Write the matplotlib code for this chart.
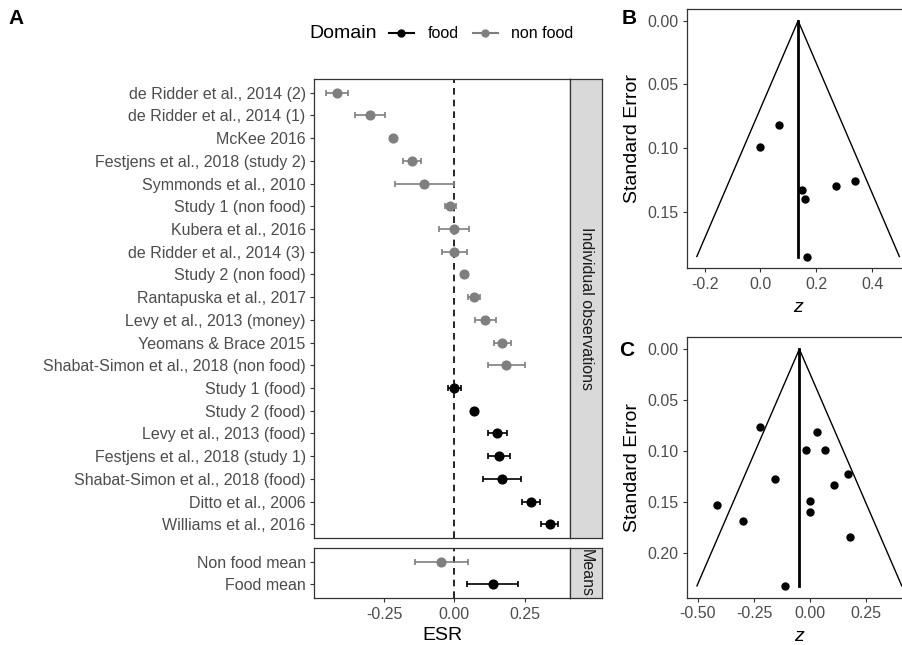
import matplotlib
matplotlib.use("Agg")
import matplotlib.pyplot as plt
from matplotlib.lines import Line2D
from matplotlib import ticker

plt.rcParams['font.family'] = ['Liberation Sans', 'DejaVu Sans']
plt.rcParams['axes.unicode_minus'] = False

W, H = 903, 645
GREY = '#7f7f7f'
TXT = '#4d4d4d'
EDGE = '#333333'

# panel A: individual observations, top to bottom
studies = ["de Ridder et al., 2014 (2)", "de Ridder et al., 2014 (1)", "McKee 2016",
           "Festjens et al., 2018 (study 2)", "Symmonds et al., 2010", "Study 1 (non food)",
           "Kubera et al., 2016", "de Ridder et al., 2014 (3)", "Study 2 (non food)",
           "Rantapuska et al., 2017", "Levy et al., 2013 (money)", "Yeomans & Brace 2015",
           "Shabat-Simon et al., 2018 (non food)", "Study 1 (food)", "Study 2 (food)",
           "Levy et al., 2013 (food)", "Festjens et al., 2018 (study 1)",
           "Shabat-Simon et al., 2018 (food)", "Ditto et al., 2006", "Williams et al., 2016"]
esr = [-0.417, -0.299, -0.220, -0.152, -0.108, -0.014, 0.000, 0.000, 0.034, 0.070,
       0.110, 0.171, 0.184, 0.000, 0.069, 0.153, 0.160, 0.169, 0.271, 0.340]
esr_err = [0.040, 0.053, 0.0, 0.032, 0.105, 0.020, 0.053, 0.045, 0.0, 0.020,
           0.037, 0.031, 0.066, 0.022, 0.0, 0.035, 0.039, 0.067, 0.032, 0.030]
domain = ["non food"] * 13 + ["food"] * 7

mean_labels = ["Non food mean", "Food mean"]
mean_esr = [-0.046, 0.136]
mean_err = [0.095, 0.090]
mean_domain = ["non food", "food"]

# panel B: food studies funnel
food_z = [0.000, 0.068, 0.150, 0.158, 0.269, 0.338, 0.168]
food_se = [0.099, 0.0815, 0.133, 0.140, 0.130, 0.126, 0.185]
food_center = 0.135

# panel C: non food studies funnel
nonfood_z = [-0.223, 0.031, -0.018, 0.068, 0.167, -0.155, 0.107, -0.416,
             -0.001, -0.001, -0.299, 0.179, -0.111]
nonfood_se = [0.0766, 0.0815, 0.0989, 0.0992, 0.1227, 0.1276, 0.134, 0.153,
              0.149, 0.160, 0.169, 0.185, 0.2327]
nonfood_center = -0.048

COLORS = {"food": "black", "non food": GREY}


def px_axes(fig, left, top, right, bottom):
    return fig.add_axes([left / W, 1 - bottom / H, (right - left) / W, (bottom - top) / H])


def style_axes(ax):
    for s in ax.spines.values():
        s.set_color(EDGE)
        s.set_linewidth(0.9)
    ax.tick_params(length=3.2, width=0.8, color=EDGE, labelcolor=TXT, labelsize=11.5, pad=3)


def strip(fig, left, top, right, bottom, text):
    sa = px_axes(fig, left, top, right, bottom)
    sa.set_facecolor('#d9d9d9')
    sa.set_xticks([])
    sa.set_yticks([])
    for s in sa.spines.values():
        s.set_color(EDGE)
        s.set_linewidth(0.9)
    sa.text(0.5, 0.5, text, rotation=-90, ha='center', va='center', fontsize=11.5,
            color='#1a1a1a', transform=sa.transAxes)


def draw_rows(ax, labels, vals, errs, doms):
    for i in range(len(labels)):
        c = COLORS[doms[i]]
        if errs[i] > 0:
            ax.errorbar(vals[i], i, xerr=errs[i], fmt='none', ecolor=c, elinewidth=1.2,
                        capsize=2.2, capthick=1.2, zorder=2)
        ax.plot(vals[i], i, 'o', color=c, markersize=6.3, zorder=3)
    ax.set_yticks(range(len(labels)))
    ax.set_yticklabels(labels)
    ax.set_ylim(len(labels) - 0.4, -0.6)
    ax.axvline(0, color='black', linestyle=(0, (4, 3)), linewidth=1.2, zorder=1)


def draw_funnel(ax, z, se, center, xticks, yticks, xfmt):
    top = max(se)
    ax.plot([center - 1.96 * top, center, center + 1.96 * top], [top, 0, top],
            color='black', linewidth=1.0)
    ax.plot([center, center], [0, top], color='black', linewidth=2.0)
    ax.plot(z, se, 'o', color='black', markersize=5, zorder=3)
    ax.invert_yaxis()
    ax.set_xticks(xticks)
    ax.set_yticks(yticks)
    ax.xaxis.set_major_formatter(ticker.FormatStrFormatter(xfmt))
    ax.yaxis.set_major_formatter(ticker.FormatStrFormatter('%.2f'))
    ax.set_xlabel('z', fontsize=14, style='italic', labelpad=5)
    ax.set_ylabel('Standard Error', fontsize=14, labelpad=4)
    style_axes(ax)


fig = plt.figure(figsize=(W / 100, H / 100), dpi=100)

# panel A
axA = px_axes(fig, 314.3, 79, 570, 538)
axM = px_axes(fig, 314.3, 548, 570, 598)
axM.sharex(axA)
draw_rows(axA, studies, esr, esr_err, domain)
draw_rows(axM, mean_labels, mean_esr, mean_err, mean_domain)
axA.set_xlim(-0.4985, 0.4115)
axA.tick_params(axis='x', bottom=False, labelbottom=False)
axM.set_xticks([-0.25, 0.0, 0.25])
axM.xaxis.set_major_formatter(ticker.FormatStrFormatter('%.2f'))
axM.set_xlabel('ESR', fontsize=14, labelpad=4)
style_axes(axA)
style_axes(axM)
strip(fig, 570, 79, 602, 538, 'Individual observations')
strip(fig, 570, 548, 602, 598, 'Means')

handles = [Line2D([], [], color=COLORS[d], marker='o', markersize=5, linewidth=1.5)
           for d in ["food", "non food"]]
fig.legend(handles, ["food", "non food"], loc='center left',
           bbox_to_anchor=(389 / W, 1 - 34 / H), ncol=2, frameon=False,
           fontsize=11.5, handlelength=1.56, handletextpad=0.85, columnspacing=0.9,
           borderpad=0, borderaxespad=0)
fig.text(309 / W, 1 - 34 / H, 'Domain', fontsize=14, ha='left', va='center')

# panel B
axB = px_axes(fig, 686.7, 9, 909.5, 268.3)
draw_funnel(axB, food_z, food_se, food_center, [-0.2, 0.0, 0.2, 0.4],
            [0.0, 0.05, 0.10, 0.15], '%.1f')

# panel C
axC = px_axes(fig, 686.7, 337.3, 912, 597.7)
draw_funnel(axC, nonfood_z, nonfood_se, nonfood_center, [-0.5, -0.25, 0.0, 0.25],
            [0.0, 0.05, 0.10, 0.15, 0.20], '%.2f')

fig.text(16 / W, 1 - 18 / H, 'A', fontsize=15, fontweight='bold', ha='center', va='center')
fig.text(629 / W, 1 - 18 / H, 'B', fontsize=15, fontweight='bold', ha='center', va='center')
fig.text(627 / W, 1 - 350 / H, 'C', fontsize=15, fontweight='bold', ha='center', va='center')

fig.savefig('out.png', dpi=100)
